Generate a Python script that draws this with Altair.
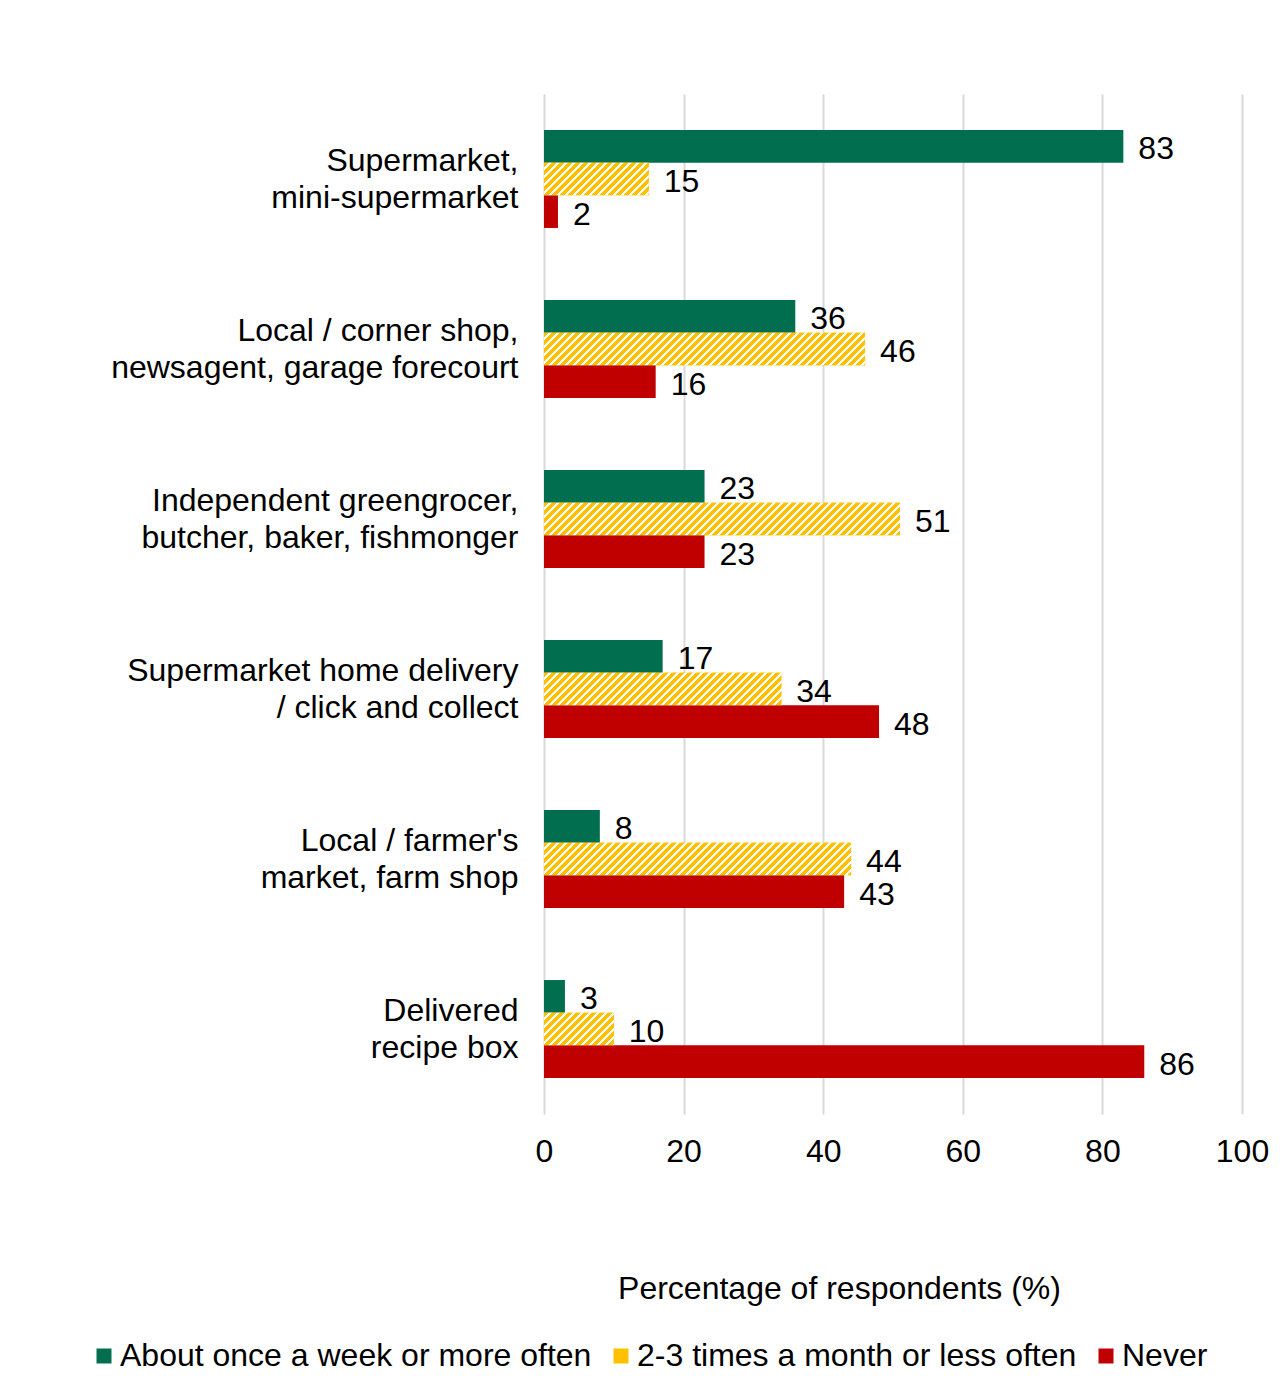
import altair as alt
import pandas as pd

# ---------------- data ----------------
categories = [
    "Supermarket,\nmini-supermarket",
    "Local / corner shop,\nnewsagent, garage forecourt",
    "Independent greengrocer,\nbutcher, baker, fishmonger",
    "Supermarket home delivery\n/ click and collect",
    "Local / farmer's\nmarket, farm shop",
    "Delivered\nrecipe box",
]
series = [
    "About once a week or more often",
    "2-3 times a month or less often",
    "Never",
]
weekly = [83, 36, 23, 17, 8, 3]
monthly = [15, 46, 51, 34, 44, 10]
never = [2, 16, 23, 48, 43, 86]
x_ticks = [0, 20, 40, 60, 80, 100]
x_title = "Percentage of respondents (%)"

rows = []
for i, c in enumerate(categories):
    for s, vals in zip(series, [weekly, monthly, never]):
        rows.append({"cat": c, "series": s, "value": vals[i]})
df = pd.DataFrame(rows)

# ---------------- styling ----------------
FONT = "Liberation Sans"
FS = 32
GREEN = "#006E4F"
YELLOW = "#FFC000"
RED = "#C00000"

W = 698
H = 1020
P_IN = 0.424
P_OUT = 0.212
step = H / (len(categories) - P_IN + 2 * P_OUT)
BAR_H = step * (1 - P_IN) / 3
PX = W / 100.0


def stripes(value, color=YELLOW, period=8.0, duty=0.6):
    w = max(value * PX, 1.0)
    h = BAR_H
    L = w + h
    x2 = (w + h) * w / (w * w + h * h)
    y2 = (w + h) * h / (w * w + h * h)
    stops = []
    pos = 0.0
    while pos < L:
        a = pos / L
        b = min((pos + period * duty) / L, 1.0)
        c = min((pos + period) / L, 1.0)
        stops += [
            {"offset": a, "color": color},
            {"offset": b, "color": color},
            {"offset": b, "color": "#FFFFFF"},
            {"offset": c, "color": "#FFFFFF"},
        ]
        pos += period
    return {"gradient": "linear", "x1": 0, "y1": 0, "x2": x2, "y2": y2, "stops": stops}


x_enc = alt.X(
    "value:Q",
    scale=alt.Scale(domain=[0, 100], nice=False),
    axis=alt.Axis(
        values=x_ticks,
        grid=True,
        gridColor="#D9D9D9",
        gridWidth=2,
        domain=False,
        ticks=False,
        labelFlush=False,
        labelFont=FONT,
        labelFontSize=FS,
        labelColor="#000000",
        labelPadding=22,
        title=x_title,
        titleFont=FONT,
        titleFontSize=FS,
        titleFontWeight="normal",
        titleColor="#000000",
        titleX=295,
        titleY=174,
        titleAlign="center",
        titleBaseline="middle",
    ),
)
y_enc = alt.Y(
    "cat:N",
    sort=categories,
    scale=alt.Scale(domain=categories, paddingInner=P_IN, paddingOuter=P_OUT),
    axis=alt.Axis(
        title=None,
        domain=False,
        ticks=False,
        grid=False,
        labelFont=FONT,
        labelFontSize=FS,
        labelColor="#000000",
        labelPadding=26,
        labelLimit=1000,
        labelLineHeight=37,
        labelOffset=-18.5,
        labelExpr="split(datum.label, '\\n')",
    ),
)
yoff_enc = alt.YOffset(
    "series:N",
    sort=series,
    scale=alt.Scale(domain=series, paddingInner=0, paddingOuter=0),
)

base = alt.Chart(df)

bars = base.mark_bar().encode(
    x=x_enc,
    y=y_enc,
    yOffset=yoff_enc,
    color=alt.Color(
        "series:N",
        scale=alt.Scale(domain=series, range=[GREEN, YELLOW, RED]),
        legend=alt.Legend(
            title=None,
            orient="none",
            direction="horizontal",
            columns=3,
            legendX=-456,
            legendY=1246,
            symbolType="square",
            symbolSize=225,
            symbolStrokeWidth=0,
            labelFont=FONT,
            labelFontSize=FS,
            labelColor="#000000",
            labelOffset=0,
            labelLimit=1000,
            columnPadding=13,
            padding=0,
        ),
    ),
)

layers = [bars]
for c, v in zip(categories, monthly):
    layers.append(
        base.transform_filter(
            (alt.datum.cat == c) & (alt.datum.series == series[1])
        )
        .mark_bar(color=stripes(v))
        .encode(x=x_enc, y=y_enc, yOffset=yoff_enc)
    )

labels = base.mark_text(
    align="left", baseline="middle", dx=15, dy=3, font=FONT, fontSize=FS, color="#000000"
).encode(x=x_enc, y=y_enc, yOffset=yoff_enc, text="value:Q")
layers.append(labels)

chart = (
    alt.layer(*layers)
    .properties(
        width=W,
        height=H,
        background="#FFFFFF",
        autosize=alt.AutoSizeParams(type="none"),
        padding={"left": 536, "top": 86, "right": 35, "bottom": 270},
    )
    .configure_view(strokeWidth=0, stroke="transparent")
)

chart.save("out.html", embed_options={"renderer": "svg", "actions": False})
